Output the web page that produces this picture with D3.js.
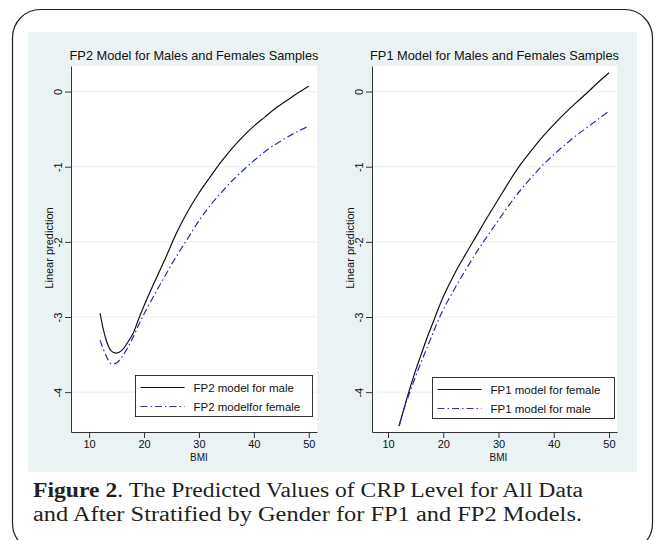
<!DOCTYPE html>
<html>
<head>
<meta charset="utf-8">
<script src="https://cdn.jsdelivr.net/npm/d3@7"></script>
<style>
  body { margin: 0; background: #fff; }
  .sans text, text.sans { font-family: "Liberation Sans", Arial, sans-serif; }
  .caption { font-family: "Liberation Serif", "Times New Roman", serif; }
</style>
</head>
<body>
<div id="chart"></div>
<script>
// BMI grid shared by every curve
const bmi = [12, 13, 14, 15, 16, 17, 18, 19, 20, 22, 24, 26, 28, 30, 32, 34, 36, 38, 40, 42, 44, 46, 48, 50];

// FP2 panel (left)
const fp2Male   = [-2.95, -3.28, -3.45, -3.48, -3.44, -3.34, -3.22, -3.03, -2.85, -2.52, -2.20, -1.87, -1.59, -1.35, -1.14, -0.94, -0.76, -0.60, -0.46, -0.34, -0.22, -0.12, -0.02, 0.07];
const fp2Female = [-3.31, -3.50, -3.62, -3.61, -3.53, -3.41, -3.27, -3.11, -2.96, -2.69, -2.43, -2.18, -1.95, -1.72, -1.52, -1.35, -1.19, -1.05, -0.92, -0.80, -0.70, -0.61, -0.53, -0.46];

// FP1 panel (right)
const fp1Female = [-4.45, -4.19, -3.94, -3.71, -3.50, -3.29, -3.10, -2.91, -2.73, -2.43, -2.17, -1.92, -1.67, -1.43, -1.19, -0.97, -0.78, -0.60, -0.44, -0.29, -0.15, -0.02, 0.12, 0.25];
const fp1Male   = [-4.45, -4.20, -3.99, -3.79, -3.60, -3.42, -3.24, -3.06, -2.90, -2.63, -2.38, -2.14, -1.92, -1.71, -1.50, -1.31, -1.14, -0.98, -0.84, -0.71, -0.59, -0.48, -0.37, -0.26];

const xTicks = [10, 20, 30, 40, 50];
const yTicks = [0, -1, -2, -3, -4];

const width = 656, height = 540;
const blue = "#2b2bb5";
const dashDot = "7,3,1.5,3";

const svg = d3.select("#chart").append("svg")
    .attr("width", width)
    .attr("height", height);

// rounded frame
svg.append("rect")
    .attr("x", 12.5).attr("y", 9.5)
    .attr("width", 640).attr("height", 542)
    .attr("rx", 28).attr("ry", 28)
    .attr("fill", "#fff")
    .attr("stroke", "#231f20")
    .attr("stroke-width", 1.2);

// Stata graph background
svg.append("rect")
    .attr("x", 28).attr("y", 32)
    .attr("width", 609).attr("height", 440)
    .attr("fill", "#eaf2f3");

function drawPanel(p) {
    let x = d3.scaleLinear().domain(p.xDomain).range([p.left, p.right]);
    let y = d3.scaleLinear().domain([-4.53, 0.34]).range([432, 66]);

    let g = svg.append("g").attr("class", "sans");

    // plot region
    g.append("rect")
        .attr("x", p.left).attr("y", 66)
        .attr("width", p.right - p.left).attr("height", 432 - 66)
        .attr("fill", "#fff");

    // gridlines
    g.selectAll(".grid")
        .data(yTicks)
        .enter().append("line")
        .attr("x1", p.left).attr("x2", p.right)
        .attr("y1", d => y(d)).attr("y2", d => y(d))
        .attr("stroke", "#eaf2f3")
        .attr("stroke-width", 1.2);

    // title
    g.append("text")
        .attr("x", (p.left + p.right) / 2)
        .attr("y", 60)
        .attr("text-anchor", "middle")
        .attr("font-size", 12.8)
        .attr("fill", "#111")
        .text(p.title);

    // y axis
    let yAxis = g.append("g")
        .attr("transform", "translate(" + p.left + ",0)")
        .call(d3.axisLeft(y).tickValues(yTicks).tickSize(6).tickSizeOuter(0).tickFormat(d => String(d)));
    yAxis.selectAll("text")
        .attr("x", null).attr("dy", null)
        .attr("text-anchor", "middle")
        .attr("transform", "translate(-9,0) rotate(-90)")
        .attr("font-size", 11)
        .attr("fill", "#111");

    // x axis
    let xAxis = g.append("g")
        .attr("transform", "translate(0,432)")
        .call(d3.axisBottom(x).tickValues(xTicks).tickSize(6).tickSizeOuter(0));
    xAxis.selectAll("text")
        .attr("y", 8)
        .attr("font-size", 11)
        .attr("fill", "#111");
    yAxis.attr("font-family", null);
    xAxis.attr("font-family", null);
    g.selectAll(".domain, .tick line").attr("stroke", "#333");

    // axis titles
    g.append("text")
        .attr("transform", "translate(" + p.yTitleX + ",248) rotate(-90)")
        .attr("text-anchor", "middle")
        .attr("font-size", 11)
        .attr("fill", "#111")
        .text("Linear prediction");

    g.append("text")
        .attr("x", x(30))
        .attr("y", 461)
        .attr("text-anchor", "middle")
        .attr("font-size", 10)
        .attr("fill", "#111")
        .text("BMI");

    // curves
    let line = d3.line()
        .x((d, i) => x(bmi[i]))
        .y(d => y(d))
        .curve(d3.curveCatmullRom.alpha(0.5));

    g.append("path")
        .attr("d", line(p.black))
        .attr("fill", "none")
        .attr("stroke", "#111")
        .attr("stroke-width", 1.2);

    g.append("path")
        .attr("d", line(p.blue))
        .attr("fill", "none")
        .attr("stroke", blue)
        .attr("stroke-width", 1.2)
        .attr("stroke-dasharray", dashDot);

    // legend
    let lg = g.append("g")
        .attr("transform", "translate(" + p.legend.x + "," + p.legend.y + ")");

    lg.append("rect")
        .attr("width", p.legend.w).attr("height", 41)
        .attr("fill", "#fff")
        .attr("stroke", "#333")
        .attr("stroke-width", 1);

    lg.append("line")
        .attr("x1", 5).attr("x2", 49)
        .attr("y1", 12).attr("y2", 12)
        .attr("stroke", "#111").attr("stroke-width", 1.2);
    lg.append("line")
        .attr("x1", 5).attr("x2", 49)
        .attr("y1", 31).attr("y2", 31)
        .attr("stroke", blue).attr("stroke-width", 1.2)
        .attr("stroke-dasharray", dashDot);

    lg.append("text")
        .attr("x", 58).attr("y", 16)
        .attr("font-size", 11.5)
        .attr("fill", "#111")
        .text(p.legend.labels[0]);
    lg.append("text")
        .attr("x", 58).attr("y", 35)
        .attr("font-size", 11.5)
        .attr("fill", "#111")
        .text(p.legend.labels[1]);
}

drawPanel({
    title: "FP2 Model for Males and Females Samples",
    left: 71, right: 317, xDomain: [6.7, 51.5], yTitleX: 53,
    black: fp2Male, blue: fp2Female,
    legend: { x: 135.5, y: 375.5, w: 177, labels: ["FP2 model for male", "FP2 modelfor female"] }
});

drawPanel({
    title: "FP1 Model for Males and Females Samples",
    left: 372, right: 617, xDomain: [7.1, 51.45], yTitleX: 354,
    black: fp1Female, blue: fp1Male,
    legend: { x: 432.5, y: 377.5, w: 182, labels: ["FP1 model for female", "FP1 model for male"] }
});

// caption
let cap = svg.append("g")
    .attr("font-size", 20)
    .attr("fill", "#231f20");

let line1 = cap.append("text")
    .attr("class", "caption")
    .attr("x", 33).attr("y", 497)
    .attr("textLength", 550)
    .attr("lengthAdjust", "spacingAndGlyphs");
line1.append("tspan").attr("font-weight", "bold").text("Figure 2");
line1.append("tspan").text(". The Predicted Values of CRP Level for All Data");

cap.append("text")
    .attr("class", "caption")
    .attr("x", 33).attr("y", 521)
    .attr("textLength", 549)
    .attr("lengthAdjust", "spacingAndGlyphs")
    .text("and After Stratified by Gender for FP1 and FP2 Models.");
</script>
</body>
</html>
